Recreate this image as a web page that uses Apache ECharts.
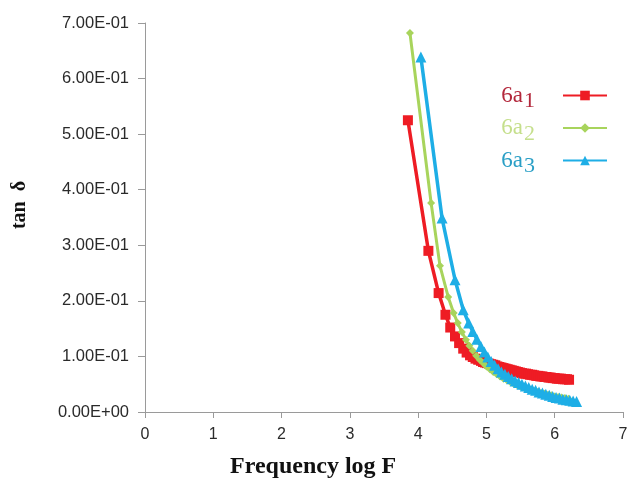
<!DOCTYPE html>
<html><head><meta charset="utf-8">
<script src="https://cdn.jsdelivr.net/npm/echarts@6/dist/echarts.min.js"></script>
<style>html,body{margin:0;padding:0;background:#fff}#c{width:632px;height:482px}</style>
</head><body><div id="c"></div>
<script>
// ---- data ----
const names = ['6a1', '6a2', '6a3'];
const x1 = [3.85,4.15,4.30,4.40,4.47,4.54,4.60,4.66,4.71,4.76,4.80,4.84,4.88,4.92,4.95,4.98,5.01,5.04,5.07,5.10,5.13,5.16,5.19,5.22,5.25,5.28,5.31,5.34,5.37,5.40,5.43,5.46,5.49,5.52,5.55,5.58,5.61,5.64,5.67,5.70,5.73,5.76,5.79,5.82,5.85,5.88,5.91,5.94,5.97,6.00,6.03,6.06,6.09,6.12,6.15,6.18,6.21];
const y1 = [0.525,0.290,0.214,0.175,0.152,0.136,0.124,0.114,0.107,0.102,0.099,0.096,0.094,0.092,0.090,0.089,0.088,0.087,0.086,0.085,0.084,0.082,0.081,0.080,0.079,0.078,0.077,0.076,0.075,0.074,0.073,0.072,0.071,0.070,0.069,0.069,0.068,0.067,0.067,0.066,0.065,0.065,0.064,0.064,0.063,0.063,0.062,0.062,0.061,0.061,0.060,0.060,0.060,0.059,0.059,0.059,0.058];
const x2 = [3.88,4.19,4.32,4.44,4.52,4.58,4.64,4.70,4.75,4.80,4.85,4.90,4.95,5.00,5.05,5.10,5.15,5.20,5.25,5.30,5.35,5.40,5.45,5.50,5.55,5.60,5.65,5.70,5.75,5.80,5.85,5.90,5.95,6.00,6.05,6.10,6.15,6.20];
const y2 = [0.682,0.376,0.263,0.207,0.178,0.160,0.144,0.130,0.119,0.110,0.101,0.094,0.088,0.082,0.077,0.072,0.068,0.064,0.060,0.057,0.054,0.051,0.048,0.046,0.044,0.042,0.040,0.038,0.036,0.034,0.033,0.031,0.030,0.028,0.027,0.026,0.025,0.024];
const x3 = [4.04,4.35,4.54,4.66,4.74,4.80,4.86,4.92,4.97,5.02,5.07,5.12,5.17,5.22,5.27,5.32,5.37,5.42,5.47,5.52,5.57,5.62,5.67,5.72,5.77,5.82,5.87,5.92,5.97,6.02,6.07,6.12,6.17,6.22,6.27,6.32];
const y3 = [0.639,0.349,0.238,0.184,0.160,0.145,0.131,0.118,0.108,0.099,0.091,0.084,0.078,0.072,0.068,0.064,0.060,0.056,0.053,0.050,0.047,0.044,0.041,0.039,0.036,0.034,0.032,0.030,0.028,0.026,0.025,0.023,0.022,0.021,0.020,0.019];
const xTickLabels = ['0','1','2','3','4','5','6','7'];
const yTickLabels = ['0.00E+00','1.00E-01','2.00E-01','3.00E-01','4.00E-01','5.00E-01','6.00E-01','7.00E-01'];

const pair = (xs, ys) => xs.map((v, i) => [v, ys[i]]);
const colors = ['#ee1c24', '#a8d45c', '#1eaee6'];
const txtColors = ['#b3283c', '#c5df8c', '#2a9fc6'];
const serif = '"Liberation Serif","Times New Roman",serif';
const sans = '"Liberation Sans",Arial,sans-serif';

const chart = echarts.init(document.getElementById('c'), null, {renderer: 'canvas'});
const mk = (name, data, color, symbol, size, lw) => ({
  name, type: 'line', data, symbol, symbolSize: size,
  lineStyle: {color, width: lw}, itemStyle: {color},
  emphasis: {disabled: true}, animation: false
});
chart.setOption({
  animation: false,
  grid: {left: 145, right: 9, top: 23, bottom: 70},
  xAxis: {
    type: 'value', min: 0, max: 7, interval: 1,
    axisLine: {lineStyle: {color: '#9a9a9a', width: 1}},
    axisTick: {show: true, length: 6, lineStyle: {color: '#9a9a9a'}},
    splitLine: {show: false},
    axisLabel: {margin: 15, fontSize: 16, color: '#2a2a2a', fontFamily: sans,
      formatter: v => xTickLabels[Math.round(v)]}
  },
  yAxis: {
    type: 'value', min: 0, max: 0.7, interval: 0.1,
    axisLine: {show: true, lineStyle: {color: '#9a9a9a', width: 1}},
    axisTick: {show: true, length: 7, lineStyle: {color: '#9a9a9a'}},
    splitLine: {show: false},
    axisLabel: {margin: 16, fontSize: 16.5, color: '#2a2a2a', fontFamily: sans,
      formatter: v => yTickLabels[Math.round(v * 10)]}
  },
  legend: {
    orient: 'vertical', right: 19, top: 79, itemGap: 4,
    itemWidth: 44, itemHeight: 12, align: 'right',
    data: names,
    formatter: n => {
      const i = names.indexOf(n);
      return '{a' + i + '|6a}{s' + i + '|' + (i + 1) + '}';
    },
    textStyle: {
      fontFamily: serif, padding: [0, 23, 0, 0],
      rich: {
        a0: {fontFamily: serif, fontSize: 23, color: txtColors[0]},
        a1: {fontFamily: serif, fontSize: 23, color: txtColors[1]},
        a2: {fontFamily: serif, fontSize: 23, color: txtColors[2]},
        s0: {fontFamily: serif, fontSize: 22, color: txtColors[0], padding: [12, 0, 0, 1]},
        s1: {fontFamily: serif, fontSize: 22, color: txtColors[1], padding: [12, 0, 0, 1]},
        s2: {fontFamily: serif, fontSize: 22, color: txtColors[2], padding: [12, 0, 0, 1]}
      }
    }
  },
  graphic: [
    {type: 'text', left: 230, top: 455, style: {text: 'Frequency log F', font: 'bold 24px ' + serif, fill: '#111'}},
    {type: 'text', x: 20, y: 205, rotation: Math.PI / 2, style: {text: 'tan  δ', font: 'bold 20px ' + serif, fill: '#111', textAlign: 'center', textVerticalAlign: 'middle'}}
  ],
  series: [
    mk(names[0], pair(x1, y1), colors[0], 'rect', 10, 3.5),
    mk(names[1], pair(x2, y2), colors[1], 'diamond', 8, 3),
    mk(names[2], pair(x3, y3), colors[2], 'triangle', 11, 3.5)
  ]
});
</script></body></html>
